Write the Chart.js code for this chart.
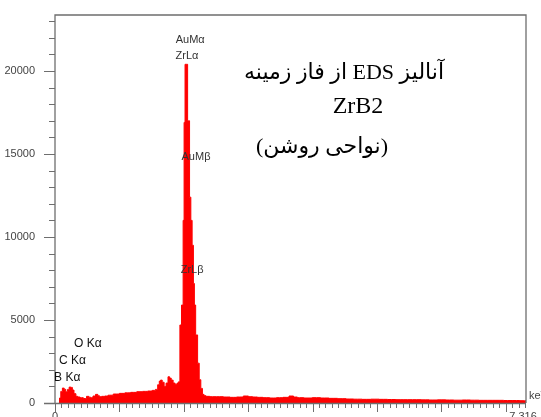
<!DOCTYPE html>
<html>
<head>
<meta charset="utf-8">
<script src="https://cdn.jsdelivr.net/npm/chart.js@4.4.0/dist/chart.umd.min.js"></script>
<style>
html,body{margin:0;padding:0;background:#fff;}
#wrap{width:541px;height:417px;position:relative;}
</style>
</head>
<body>
<div id="wrap"><canvas id="c" width="541" height="417"></canvas></div>
<script>
// ---- data ----
const energies = [0.06,0.08,0.10,0.13,0.155,0.18,0.21,0.23,0.26,0.28,0.31,0.34,0.37,0.41,0.47,0.51,0.54,0.57,0.61,0.65,0.68,0.70,0.75,0.80,0.85,0.96,1.04,1.13,1.22,1.32,1.40,1.48,1.54,1.58,1.61,1.63,1.65,1.68,1.71,1.74,1.77,1.79,1.82,1.85,1.88,1.91,1.93,1.95,1.98,2.00,2.01,2.03,2.05,2.07,2.08,2.10,2.12,2.14,2.16,2.17,2.20,2.23,2.25,2.28,2.30,2.33,2.36,2.45,2.56,2.67,2.77,2.87,2.98,3.03,3.11,3.18,3.28,3.39,3.49,3.59,3.68,3.73,3.80,3.93,4.06,4.19,4.32,4.46,4.58,4.70,4.84,4.97,5.10,5.23,5.36,5.48,5.62,5.75,5.87,6.01,6.13,6.26,6.39,6.52,6.65,6.79,6.91,7.03,7.17,7.27,7.316];
const counts   = [0,300,700,900,820,680,820,960,940,780,560,400,360,320,270,400,350,320,420,520,440,380,400,420,470,540,580,610,640,680,700,720,760,820,1100,1320,1380,1250,1000,1200,1580,1500,1380,1200,1120,1200,1280,4700,5900,11000,16900,20400,20400,17000,17000,12400,11000,9500,7200,5900,4100,2400,1400,880,520,440,400,380,380,360,340,360,420,380,360,340,320,300,320,340,420,360,320,300,320,300,280,260,240,230,220,230,220,210,200,200,200,190,180,190,180,170,180,170,160,160,160,150,150,140,140];
const yTickLabels = [0,5000,10000,15000,20000];
const xTickLabels = [0,7.316];
const peakNames    = ['AuM\u03b1','ZrL\u03b1','AuM\u03b2','ZrL\u03b2','O K\u03b1','C K\u03b1','B K\u03b1'];
const peakEnergies = [2.10,2.05,2.19,2.13,0.51,0.27,0.19];
const peakCounts   = [21870,20900,14820,8010,3550,2530,1500];
const titleLines = ['\u0622\u0646\u0627\u0644\u06CC\u0632 EDS \u0627\u0632 \u0641\u0627\u0632 \u0632\u0645\u06CC\u0646\u0647','ZrB2','(\u0646\u0648\u0627\u062D\u06CC \u0631\u0648\u0634\u0646)'];
const unitLabel = 'keV';

const points = energies.map((e,i)=>({x:e,y:counts[i]}));

const decor = {
  id:'decor',
  afterDraw(chart){
    const ctx = chart.ctx, a = chart.chartArea;
    const xs = chart.scales.x, ys = chart.scales.y;
    ctx.save();
    // frame
    ctx.strokeStyle = '#6e6e6e';
    ctx.lineWidth = 1.3;
    ctx.beginPath();
    ctx.moveTo(a.left, a.bottom); ctx.lineTo(a.left, a.top); ctx.lineTo(a.right, a.top); ctx.lineTo(a.right, a.bottom);
    ctx.stroke();
    ctx.beginPath();
    ctx.moveTo(a.left-11, a.bottom+0.5); ctx.lineTo(a.right, a.bottom+0.5);
    ctx.stroke();
    // y ticks
    ctx.lineWidth = 1;
    for(let v=0; v<=23000; v+=1000){
      const y = Math.round(ys.getPixelForValue(v))+0.5;
      const len = (v%5000===0)?11:6;
      ctx.beginPath(); ctx.moveTo(a.left-len, y); ctx.lineTo(a.left, y); ctx.stroke();
    }
    // x ticks
    for(let k=0; k<=73; k++){
      const x = Math.round(xs.getPixelForValue(k/10))+0.5;
      const len = (k%10===0)?9:5;
      ctx.beginPath(); ctx.moveTo(x, a.bottom); ctx.lineTo(x, a.bottom+len); ctx.stroke();
    }
    // x tick labels
    ctx.font='11px "Liberation Sans", Arial, sans-serif';
    ctx.fillStyle='#444';
    ctx.textAlign='center'; ctx.textBaseline='top';
    xTickLabels.forEach(v=>{
      ctx.fillText(String(v), xs.getPixelForValue(v) - (v>0?3:0), a.bottom+8);
    });
    // peak labels
    ctx.textAlign='center'; ctx.textBaseline='middle';
    peakNames.forEach((t,i)=>{
      const small = i<4;
      ctx.font = small ? '11px "Liberation Sans", Arial, sans-serif' : '12px "Liberation Sans", Arial, sans-serif';
      ctx.fillStyle = small ? '#333' : '#111';
      ctx.fillText(t, xs.getPixelForValue(peakEnergies[i]), ys.getPixelForValue(peakCounts[i]));
    });
    // unit
    ctx.textAlign='left';
    ctx.font='11px "Liberation Sans", Arial, sans-serif';
    ctx.fillStyle='#444';
    ctx.fillText(unitLabel, a.right+3, a.bottom-7);
    // title
    ctx.fillStyle='#000';
    ctx.textAlign='center';
    ctx.font='22px "Liberation Serif", "DejaVu Sans", serif';
    ctx.direction='rtl';
    ctx.fillText(titleLines[0], 344, 73);
    ctx.direction='ltr';
    ctx.font='24px "Liberation Serif", "Times New Roman", serif';
    ctx.fillText(titleLines[1], 358, 107);
    ctx.direction='rtl';
    ctx.font='22px "Liberation Serif", "DejaVu Sans", serif';
    ctx.fillText(titleLines[2], 322, 147);
    ctx.restore();
  }
};

new Chart(document.getElementById('c'), {
  type:'line',
  data:{datasets:[{
    data:points,
    stepped:'middle',
    fill:'origin',
    backgroundColor:'#ff0000',
    borderColor:'#ff0000',
    borderWidth:1,
    pointRadius:0
  }]},
  options:{
    responsive:false,
    animation:false,
    devicePixelRatio:1,
    layout:{padding:{top:15,right:15,left:0,bottom:0}},
    plugins:{legend:{display:false},tooltip:{enabled:false}},
    scales:{
      x:{
        type:'linear', min:0, max:7.316,
        afterBuildTicks(s){ s.ticks = xTickLabels.map(v=>({value:v})); },
        afterFit(s){ s.height = 14; s.paddingLeft = 0; s.paddingRight = 0; },
        grid:{display:false}, border:{display:false},
        ticks:{display:false}
      },
      y:{
        min:0, max:23370,
        afterBuildTicks(s){ s.ticks = yTickLabels.map(v=>({value:v})); },
        afterFit(s){ s.width = 55; s.paddingTop = 0; s.paddingBottom = 0; },
        grid:{display:false}, border:{display:false},
        ticks:{
          autoSkip:false, padding:12,
          color:'#444', font:{family:'"Liberation Sans", Arial, sans-serif', size:11},
          callback:(v)=> String(v)
        }
      }
    }
  },
  plugins:[decor]
});
</script>
</body>
</html>
